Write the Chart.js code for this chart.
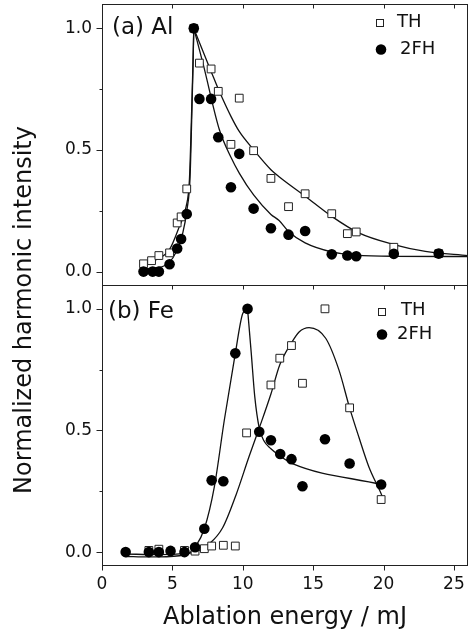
<!DOCTYPE html>
<html>
<head>
<meta charset="utf-8">
<script src="https://cdn.jsdelivr.net/npm/chart.js@4.4.1/dist/chart.umd.min.js"></script>
<style>
  html, body { margin: 0; padding: 0; background: #fff; }
</style>
</head>
<body>
<canvas id="grafico" width="469" height="640"></canvas>
<script>
// eixos
const xTicks = [0, 5, 10, 15, 20, 25];
const yTicks = [0, 0.5, 1.0];
const yMinor = [0.25, 0.75];

// (a) Al - pontos medidos
const alTH_x = [2.95, 3.52, 4.04, 4.8, 5.34, 5.62, 6.02, 6.52, 6.92, 7.75, 8.26, 9.16, 9.75, 10.77, 12.0, 13.25, 14.43, 16.32, 17.43, 18.06, 20.73, 23.92];
const alTH_y = [0.032, 0.045, 0.066, 0.077, 0.2, 0.225, 0.34, 1.0, 0.857, 0.833, 0.741, 0.523, 0.713, 0.497, 0.383, 0.267, 0.32, 0.238, 0.156, 0.163, 0.1, 0.074];
const al2FH_x = [2.95, 3.6, 4.04, 4.8, 5.34, 5.62, 6.02, 6.52, 6.92, 7.75, 8.26, 9.16, 9.75, 10.77, 12.0, 13.25, 14.43, 16.32, 17.43, 18.06, 20.73, 23.92];
const al2FH_y = [0, 0, 0, 0.03, 0.095, 0.134, 0.237, 1.0, 0.71, 0.71, 0.552, 0.347, 0.484, 0.259, 0.178, 0.152, 0.167, 0.071, 0.066, 0.063, 0.073, 0.074];

// (a) Al - curvas ajustadas
const alCurvaTH_sobe = [[3.0, 0.028], [3.85, 0.049], [4.79, 0.09], [5.5, 0.186], [5.98, 0.268], [6.21, 0.377], [6.35, 0.624], [6.45, 0.83], [6.52, 1.0]];
const alCurvaTH_desce = [[6.52, 1.0], [7.0, 0.93], [7.75, 0.823], [8.34, 0.74], [9.16, 0.638], [9.75, 0.576], [10.77, 0.501], [12.0, 0.419], [12.58, 0.39], [14.43, 0.31], [16.32, 0.227], [18.24, 0.159], [20.73, 0.111], [22.97, 0.083], [26.0, 0.066]];
const alCurva2FH_sobe = [[3.0, 0.012], [3.85, 0.015], [5.03, 0.056], [5.74, 0.159], [6.05, 0.26], [6.25, 0.38], [6.37, 0.62], [6.46, 0.83], [6.52, 1.0]];
const alCurva2FH_desce = [[6.52, 1.0], [7.2, 0.85], [8.34, 0.583], [9.16, 0.47], [9.75, 0.405], [10.77, 0.315], [12.0, 0.235], [12.58, 0.21], [13.25, 0.165], [14.43, 0.118], [16.32, 0.081], [18.06, 0.068], [20.73, 0.063], [26.0, 0.062]];

// (b) Fe - pontos medidos
const feTH_x = [3.33, 4.04, 5.86, 6.61, 7.27, 7.79, 8.62, 9.47, 10.27, 12.0, 12.63, 13.46, 14.24, 15.84, 17.59, 19.83];
const feTH_y = [0.007, 0.012, 0.007, 0.004, 0.014, 0.025, 0.028, 0.025, 0.49, 0.687, 0.797, 0.849, 0.694, 1.0, 0.593, 0.216];
const fe2FH_x = [1.68, 3.33, 4.04, 4.87, 5.86, 6.61, 7.27, 7.79, 8.62, 9.47, 10.34, 11.17, 12.0, 12.66, 13.46, 14.24, 15.84, 17.59, 19.83];
const fe2FH_y = [0, 0, 0, 0.005, 0, 0.02, 0.096, 0.295, 0.291, 0.817, 1.0, 0.495, 0.46, 0.403, 0.382, 0.271, 0.464, 0.364, 0.278];

// (b) Fe - curvas ajustadas
const feCurvaTH = [[1.68, -0.008], [4.0, -0.01], [6.0, -0.005], [6.61, 0.0], [7.63, 0.034], [8.57, 0.1], [9.52, 0.235], [10.46, 0.395], [11.17, 0.51], [12.0, 0.65], [12.63, 0.77], [13.46, 0.86], [14.0, 0.905], [14.71, 0.923], [15.89, 0.879], [16.83, 0.749], [17.59, 0.593], [18.24, 0.474], [18.96, 0.35], [19.83, 0.24], [20.0, 0.215]];
const feCurva2FH_sobe = [[1.68, -0.018], [3.33, -0.02], [5.5, -0.015], [6.2, -0.005], [6.61, 0.02], [7.27, 0.096], [7.98, 0.268], [8.69, 0.543], [9.47, 0.817], [9.99, 0.98], [10.34, 1.0]];
const feCurva2FH_desce = [[10.34, 1.0], [10.6, 0.82], [10.85, 0.64], [11.17, 0.51], [11.5, 0.458], [12.0, 0.425], [12.58, 0.398], [13.53, 0.364], [19.83, 0.278]];

const fonte = '"DejaVu Sans"';
const preto = '#111';

const pts = (xs, ys) => xs.map((x, i) => ({ x, y: ys[i] }));
const par = arr => arr.map(([x, y]) => ({ x, y }));

function quadrado(data, eixo) {
  return { data, yAxisID: eixo, showLine: false, pointStyle: 'rect', pointRadius: 5.5,
    pointBackgroundColor: '#fff', pointBorderColor: '#222', pointBorderWidth: 1, order: 1 };
}
function bola(data, eixo) {
  return { data, yAxisID: eixo, showLine: false, pointStyle: 'circle', pointRadius: 5.3,
    pointBackgroundColor: '#000', pointBorderColor: '#000', pointBorderWidth: 0, order: 0 };
}
function curva(data, eixo) {
  return { data, yAxisID: eixo, showLine: true, pointRadius: 0, borderColor: preto, borderWidth: 1.3,
    cubicInterpolationMode: 'monotone', fill: false, order: 2 };
}

function eixoY(peso) {
  return {
    type: 'linear', position: 'left', stack: 'paineis', stackWeight: 1, weight: peso,
    min: -0.053, max: 1.1,
    afterBuildTicks: s => { s.ticks = yTicks.map(v => ({ value: v })); },
    afterFit: s => { s.width = 102; s.paddingTop = 0; s.paddingBottom = 0; },
    ticks: { callback: v => v.toFixed(1), padding: 10, color: preto, font: { family: fonte, size: 17 } },
    grid: { drawOnChartArea: false, drawTicks: false },
    border: { display: false }
  };
}

const moldura = {
  id: 'moldura',
  afterDraw(chart) {
    const { ctx, chartArea: ca, scales } = chart;
    const sx = scales.x;
    const L = Math.round(ca.left) + 0.5, R = Math.round(ca.right) - 0.5;
    ctx.save();
    ctx.strokeStyle = '#222';
    ctx.lineWidth = 1;
    [scales.ya, scales.yb].forEach(s => {
      const T = Math.round(s.top) + 0.5, B = Math.round(s.bottom) + 0.5;
      ctx.strokeRect(L, T, R - L, B - T);
      ctx.beginPath();
      yTicks.forEach(v => {
        const y = Math.round(s.getPixelForValue(v)) + 0.5;
        ctx.moveTo(L - 6, y); ctx.lineTo(L, y);
      });
      yMinor.forEach(v => {
        const y = Math.round(s.getPixelForValue(v)) + 0.5;
        ctx.moveTo(L - 3, y); ctx.lineTo(L, y);
      });
      xTicks.forEach(v => {
        const x = Math.round(sx.getPixelForValue(v)) + 0.5;
        ctx.moveTo(x, T); ctx.lineTo(x, T + 4);
      });
      ctx.stroke();
    });
    const Bb = Math.round(scales.yb.bottom) + 0.5;
    ctx.beginPath();
    xTicks.forEach(v => {
      const x = Math.round(sx.getPixelForValue(v)) + 0.5;
      ctx.moveTo(x, Bb); ctx.lineTo(x, Bb + 5);
    });
    ctx.stroke();

    // textos dos paineis
    ctx.fillStyle = preto;
    ctx.textBaseline = 'middle';
    ctx.textAlign = 'left';
    ctx.font = '23px ' + fonte;
    ctx.fillText('(a) Al', 112, 28);
    ctx.fillText('(b) Fe', 108, 312);

    // legendas
    ctx.font = '18px ' + fonte;
    ctx.fillText('TH', 397, 22);
    ctx.fillText('2FH', 400, 49);
    ctx.fillText('TH', 401, 310);
    ctx.fillText('2FH', 397, 334);
    ctx.strokeRect(376.5, 19.5, 7, 7);
    ctx.strokeRect(378.5, 308.5, 7, 7);
    ctx.fillStyle = '#000';
    ctx.beginPath(); ctx.arc(381, 49.5, 5.3, 0, Math.PI * 2); ctx.fill();
    ctx.beginPath(); ctx.arc(382, 334.5, 5.3, 0, Math.PI * 2); ctx.fill();

    // titulo do eixo y
    ctx.fillStyle = preto;
    ctx.font = '24px ' + fonte;
    ctx.translate(25, 310);
    ctx.rotate(-Math.PI / 2);
    ctx.textAlign = 'center';
    ctx.fillText('Normalized harmonic intensity', 0, 0);
    ctx.restore();
  }
};

new Chart(document.getElementById('grafico'), {
  type: 'scatter',
  data: {
    datasets: [
      bola(pts(al2FH_x, al2FH_y), 'ya'),
      bola(pts(fe2FH_x, fe2FH_y), 'yb'),
      quadrado(pts(alTH_x, alTH_y), 'ya'),
      quadrado(pts(feTH_x, feTH_y), 'yb'),
      curva(par(alCurvaTH_sobe), 'ya'),
      curva(par(alCurvaTH_desce), 'ya'),
      curva(par(alCurva2FH_sobe), 'ya'),
      curva(par(alCurva2FH_desce), 'ya'),
      curva(par(feCurvaTH), 'yb'),
      curva(par(feCurva2FH_sobe), 'yb'),
      curva(par(feCurva2FH_desce), 'yb')
    ]
  },
  options: {
    responsive: false,
    animation: false,
    layout: { autoPadding: false, padding: { left: 0, top: 4, right: 1, bottom: 0 } },
    plugins: { legend: { display: false }, tooltip: { enabled: false } },
    scales: {
      x: {
        type: 'linear', position: 'bottom', min: 0, max: 26,
        afterBuildTicks: s => { s.ticks = xTicks.map(v => ({ value: v })); },
        afterFit: s => { s.height = 75; s.paddingLeft = 0; s.paddingRight = 0; },
        ticks: { padding: 9, color: preto, font: { family: fonte, size: 17 } },
        grid: { drawOnChartArea: false, drawTicks: false },
        border: { display: false },
        title: { display: true, text: 'Ablation energy / mJ', color: preto,
          font: { family: fonte, size: 24 }, padding: { top: 0, bottom: 8 } }
      },
      ya: eixoY(2),
      yb: eixoY(1)
    }
  },
  plugins: [moldura]
});
</script>
</body>
</html>
